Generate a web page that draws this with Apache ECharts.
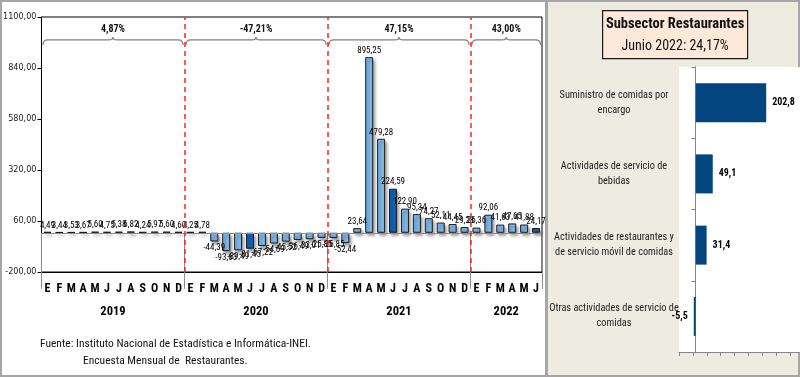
<!DOCTYPE html>
<html>
<head>
<meta charset="utf-8">
<script src="https://cdn.jsdelivr.net/npm/echarts@6/dist/echarts.min.js"></script>
<style>
  html, body { margin: 0; padding: 0; background: #fff; }
  #chart { width: 800px; height: 377px; }
</style>
</head>
<body>
<div id="chart"></div>
<script>
// datos: variacion % mensual, subsector restaurantes
const months = ['E', 'F', 'M', 'A', 'M', 'J', 'J', 'A', 'S', 'O', 'N', 'D'];
const years = ['2019', '2020', '2021', '2022'];
const monthsPerYear = [12, 12, 12, 6];
const values2019 = [4.49, 3.44, 3.53, 3.67, 5.60, 4.75, 5.38, 6.82, 4.24, 5.97, 5.60, 4.60];
const values2020 = [4.25, 4.78, -44.39, -93.63, -89.49, -81.45, -67.22, -54.69, -45.52, -36.49, -33.01, -25.85];
const values2021 = [-26.85, -52.44, 23.64, 895.25, 479.28, 224.59, 122.90, 95.34, 74.27, 52.11, 44.45, 29.28];
const values2022 = [26.36, 92.06, 41.63, 47.65, 41.88, 24.17];
const yearChange = [4.87, -47.21, 47.15, 43.00];
const yMin = -200, yMax = 1100, yStep = 260;

// panel derecho
const subsectorNames = [
  'Suministro de comidas por\nencargo',
  'Actividades de servicio de\nbebidas',
  'Actividades de restaurantes y\nde servicio móvil de comidas',
  'Otras actividades de servicio de\ncomidas'
];
const subsectorValues = [202.8, 49.1, 31.4, -5.5];

const NARROW = "'Roboto Condensed', 'DejaVu Sans Condensed', sans-serif";
const fmt = (v, d) => v.toFixed(d).replace('.', ',');

const allValues = [].concat(values2019, values2020, values2021, values2022);
const categories = [];
const yearStarts = [];
const braces = [];
let pos = 0;
years.forEach((y, i) => {
  yearStarts.push(pos);
  for (let m = 0; m < monthsPerYear[i]; m++) categories.push(months[m]);
  braces.push([pos + 0.12, pos + monthsPerYear[i] - 0.12, 983]);
  pos += monthsPerYear[i];
});
const yearCenters = yearStarts.map((s, i) => s + monthsPerYear[i] / 2);
const yearBounds = yearStarts.concat([pos]);

const barData = allValues.map((v, i) => ({
  value: v,
  itemStyle: { color: i % 12 === 5 ? '#1262b5' : '#80b7e8' },
  label: { position: v < 0 ? 'bottom' : 'top' }
}));

function renderBrace(params, api) {
  const a = api.coord([api.value(0), api.value(2)]);
  const b = api.coord([api.value(1), api.value(2)]);
  const y = a[1], x0 = a[0], x1 = b[0], xm = (x0 + x1) / 2, r = 5;
  const d = 'M' + x0 + ',' + (y + r) + ' Q' + x0 + ',' + y + ' ' + (x0 + r) + ',' + y +
    ' L' + (xm - 4) + ',' + y + ' Q' + xm + ',' + y + ' ' + xm + ',' + (y - 3) +
    ' Q' + xm + ',' + y + ' ' + (xm + 4) + ',' + y +
    ' L' + (x1 - r) + ',' + y + ' Q' + x1 + ',' + y + ' ' + x1 + ',' + (y + r);
  return {
    type: 'group',
    children: [
      { type: 'path', shape: { pathData: d }, style: { fill: 'none', stroke: '#7f7f7f', lineWidth: 1.2 } },
      { type: 'text', style: {
          text: fmt(yearChange[params.dataIndex], 2) + '%', x: xm, y: y - 5,
          align: 'center', verticalAlign: 'bottom',
          font: 'bold 10px ' + NARROW, fill: '#111'
      } }
    ]
  };
}

const chart = echarts.init(document.getElementById('chart'));

const option = {
  animation: false,
  backgroundColor: '#fff',
  graphic: [
    { type: 'rect', z: -10, shape: { x: 1, y: 1, width: 545, height: 375 },
      style: { fill: '#fff', stroke: '#a6a6a6', lineWidth: 2 } },
    { type: 'rect', z: -10, shape: { x: 547, y: 1, width: 252, height: 375 },
      style: { fill: '#eeece1', stroke: '#a6a6a6', lineWidth: 2 } },
    { type: 'group', left: 602, top: 10, children: [
      { type: 'rect', shape: { x: 0, y: 0, width: 145, height: 48 },
        style: { fill: '#fde9d9', stroke: '#1a1a1a', lineWidth: 1.2 } },
      { type: 'text', style: { text: 'Subsector Restaurantes', x: 72.5, y: 14, align: 'center', verticalAlign: 'middle',
        font: 'bold 14.5px ' + NARROW, fill: '#111' } },
      { type: 'text', style: { text: 'Junio 2022: 24,17%', x: 72.5, y: 36, align: 'center', verticalAlign: 'middle',
        font: '14px ' + NARROW, fill: '#111' } }
    ] },
    { type: 'text', left: 40, top: 338, style: {
      text: 'Fuente: Instituto Nacional de Estadística e Informática-INEI.', font: '11.5px ' + NARROW, fill: '#111' } },
    { type: 'text', left: 83, top: 355, style: {
      text: 'Encuesta Mensual de  Restaurantes.', font: '11.5px ' + NARROW, fill: '#111' } }
  ],
  grid: [
    { left: 40, right: 258, top: 17, bottom: 105, show: true, borderColor: '#000', borderWidth: 1, backgroundColor: '#fff' },
    { left: 679, right: 0, top: 67, bottom: 25, show: true, borderWidth: 0, backgroundColor: '#fff' }
  ],
  xAxis: [
    {
      type: 'category', gridIndex: 0, data: categories, position: 'bottom',
      axisLine: { onZero: false, lineStyle: { color: '#000' } },
      axisTick: { show: false },
      axisLabel: { interval: 0, margin: 11, color: '#000', fontWeight: 'bold', fontSize: 12, fontFamily: NARROW }
    },
    {
      type: 'value', gridIndex: 0, min: 0, max: pos, position: 'bottom',
      axisLine: { show: false },
      splitLine: { show: false },
      axisTick: { show: true, customValues: yearBounds, length: 56, lineStyle: { color: '#8c8c8c' } },
      axisLabel: {
        customValues: yearCenters, margin: 33, color: '#000', fontWeight: 'bold', fontSize: 12.5, fontFamily: NARROW,
        formatter: v => years[yearCenters.indexOf(v)] || ''
      }
    },
    {
      type: 'value', gridIndex: 1, min: -48, max: 300, interval: 40,
      axisLine: { show: true, lineStyle: { color: '#868686' } },
      axisTick: { show: true, length: 4, lineStyle: { color: '#868686' } },
      axisLabel: { show: false },
      splitLine: { show: false }
    }
  ],
  yAxis: [
    {
      type: 'value', gridIndex: 0, min: yMin, max: yMax, interval: yStep,
      axisLine: { show: true, lineStyle: { color: '#000' } },
      axisTick: { show: true, length: 4, lineStyle: { color: '#000' } },
      splitLine: { show: false },
      axisLabel: { margin: 5, color: '#222', fontSize: 9, fontFamily: "'DejaVu Sans Condensed', sans-serif",
        formatter: v => fmt(v, 2) }
    },
    {
      type: 'category', gridIndex: 1, data: subsectorNames, inverse: true,
      axisLine: { show: true, onZero: true, lineStyle: { color: '#868686' } },
      axisTick: { show: true, length: 4, lineStyle: { color: '#868686' } },
      axisLabel: { margin: 65, align: 'center', color: '#222', fontSize: 10.3, lineHeight: 15, fontFamily: NARROW }
    }
  ],
  series: [
    {
      type: 'bar', xAxisIndex: 0, yAxisIndex: 0, data: barData, barWidth: 8, z: 3,
      itemStyle: { borderColor: '#1a1a1a', borderWidth: 1,
        shadowColor: 'rgba(0,0,0,0.35)', shadowBlur: 3, shadowOffsetX: 2, shadowOffsetY: 3 },
      label: { show: true, distance: 2, fontSize: 9, color: '#000', fontFamily: NARROW,
        formatter: p => fmt(p.value, 2) },
      markLine: { silent: true, symbol: 'none', label: { show: false },
        lineStyle: { color: '#8c8c8c', type: 'solid', width: 1 },
        data: [{ yAxis: 0 }] }
    },
    {
      type: 'line', xAxisIndex: 1, yAxisIndex: 0, data: [],
      markLine: { silent: true, symbol: 'none', label: { show: false },
        lineStyle: { color: '#ff2020', type: [5, 4], width: 1.5 },
        data: yearStarts.slice(1).map(v => ({ xAxis: v })) }
    },
    {
      type: 'custom', xAxisIndex: 1, yAxisIndex: 0, data: braces, renderItem: renderBrace, z: 4
    },
    {
      type: 'bar', xAxisIndex: 2, yAxisIndex: 1, barWidth: 39,
      data: subsectorValues.map(v => ({ value: v, label: { position: v < 0 ? 'left' : 'right' } })),
      itemStyle: { color: '#03467f' },
      label: { show: true, distance: 6, fontSize: 10, fontWeight: 'bold', color: '#000', fontFamily: NARROW,
        formatter: p => fmt(p.value, 1) }
    }
  ]
};

chart.setOption(option);
</script>
</body>
</html>
